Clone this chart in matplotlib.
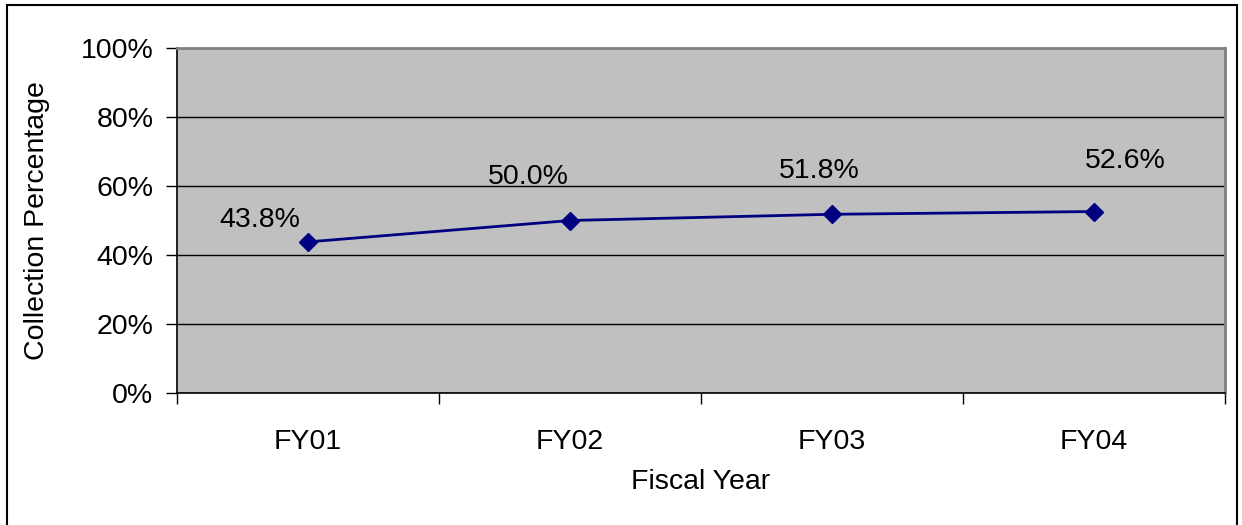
import matplotlib
matplotlib.use("Agg")
import matplotlib.pyplot as plt
from matplotlib.patches import Rectangle
from matplotlib.ticker import PercentFormatter

plt.rcParams['font.family'] = ['Liberation Sans', 'DejaVu Sans']

years = ['FY01', 'FY02', 'FY03', 'FY04']
collection = [43.8, 50.0, 51.8, 52.6]
label_offsets = [(-48, 22), (-42, 44), (-13, 43), (31, 51)]  # pixels

fs = 20.5
fig = plt.figure(figsize=(12.42, 5.25), dpi=100)
ax = fig.add_axes([177 / 1242, 132 / 525, 1048 / 1242, 345 / 525])
ax.set_facecolor('#C0C0C0')

x = range(len(years))
ax.plot(x, collection, color='#000080', lw=2, marker='D', ms=9.5, zorder=3)
for xi, v, (dx, dy) in zip(x, collection, label_offsets):
    ax.annotate(f'{v:.1f}%', (xi, v), xytext=(dx, dy), textcoords='offset pixels',
                ha='center', va='center', fontsize=fs, color='black')

ax.set_xlim(-0.5, len(years) - 0.5)
ax.set_ylim(0, 100)
ax.set_yticks(range(0, 101, 20))
ax.yaxis.set_major_formatter(PercentFormatter(decimals=0))
ax.set_xticks([i - 0.5 for i in range(len(years) + 1)])
ax.set_xticklabels([])
ax.set_xticks(list(x), minor=True)
ax.set_xticklabels(years, minor=True)
ax.tick_params(axis='x', which='minor', length=0, pad=26, labelsize=fs)
ax.tick_params(axis='x', which='major', length=8, width=1, direction='out')
ax.tick_params(axis='y', length=8, width=1, direction='out', labelsize=fs, pad=9)
ax.grid(axis='y', color='black', lw=1)
ax.set_axisbelow(True)

for side in ['top', 'right']:
    ax.spines[side].set_color('#808080')
    ax.spines[side].set_linewidth(2)
for side in ['left', 'bottom']:
    ax.spines[side].set_color('black')
    ax.spines[side].set_linewidth(1.2)

ax.set_ylabel('Collection Percentage', fontsize=fs, labelpad=22)
ax.set_xlabel('Fiscal Year', fontsize=fs, labelpad=10)

fig.patches.append(Rectangle((7 / 1242, -0.05), 1230 / 1242, (520 / 525) + 0.05,
                             transform=fig.transFigure, fill=False,
                             edgecolor='black', lw=1.5))

fig.savefig('out.png', dpi=100)
